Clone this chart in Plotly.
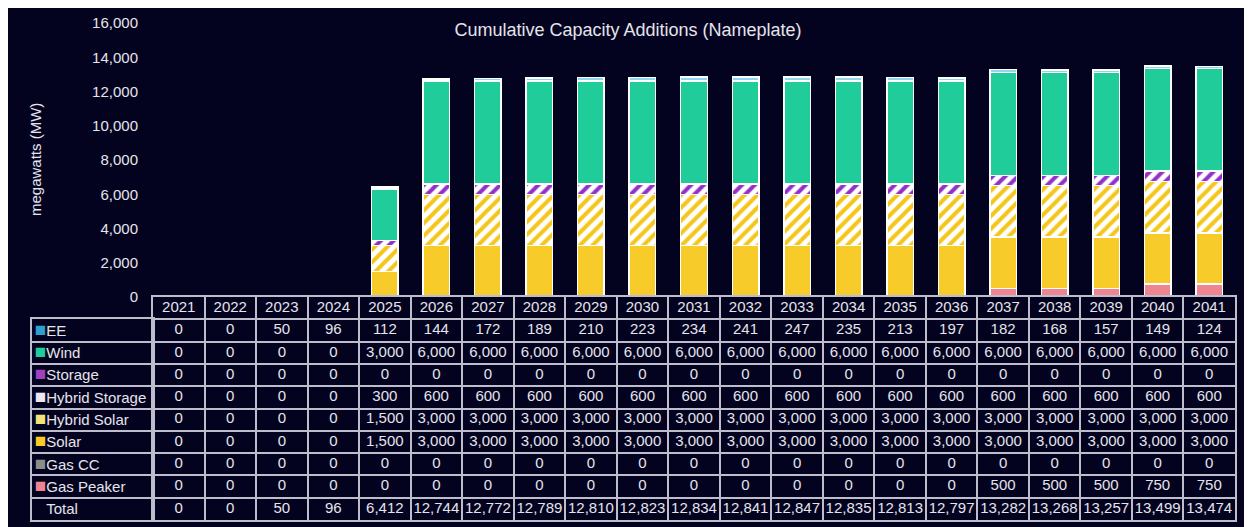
import plotly.graph_objects as go

# ---------------- data ----------------
years = ["2021", "2022", "2023", "2024", "2025", "2026", "2027", "2028", "2029", "2030",
         "2031", "2032", "2033", "2034", "2035", "2036", "2037", "2038", "2039", "2040", "2041"]

ee = [0, 0, 50, 96, 112, 144, 172, 189, 210, 223, 234, 241, 247, 235, 213, 197, 182, 168, 157, 149, 124]
wind = [0, 0, 0, 0, 3000, 6000, 6000, 6000, 6000, 6000, 6000, 6000, 6000, 6000, 6000, 6000,
        6000, 6000, 6000, 6000, 6000]
storage = [0, 0, 0, 0, 0, 0, 0, 0, 0, 0, 0, 0, 0, 0, 0, 0, 0, 0, 0, 0, 0]
hybrid_storage = [0, 0, 0, 0, 300, 600, 600, 600, 600, 600, 600, 600, 600, 600, 600, 600,
                  600, 600, 600, 600, 600]
hybrid_solar = [0, 0, 0, 0, 1500, 3000, 3000, 3000, 3000, 3000, 3000, 3000, 3000, 3000, 3000, 3000,
                3000, 3000, 3000, 3000, 3000]
solar = [0, 0, 0, 0, 1500, 3000, 3000, 3000, 3000, 3000, 3000, 3000, 3000, 3000, 3000, 3000,
         3000, 3000, 3000, 3000, 3000]
gas_cc = [0, 0, 0, 0, 0, 0, 0, 0, 0, 0, 0, 0, 0, 0, 0, 0, 0, 0, 0, 0, 0]
gas_peaker = [0, 0, 0, 0, 0, 0, 0, 0, 0, 0, 0, 0, 0, 0, 0, 0, 500, 500, 500, 750, 750]

series_names = ["EE", "Wind", "Storage", "Hybrid Storage", "Hybrid Solar", "Solar", "Gas CC", "Gas Peaker"]
total_name = "Total"
header_key = "Year"
title_text = "Cumulative Capacity Additions (Nameplate)"
y_title = "megawatts (MW)"
y_ticks = [0, 2000, 4000, 6000, 8000, 10000, 12000, 14000, 16000]

# ---------------- geometry (page px -> paper fraction) ----------------
OFF = 8                       # browser body margin
W, H = 1252 - OFF, 527 - OFF  # figure fits the window exactly


def fx(p):
    return (p - OFF) / W


def fy(p):
    return 1 - (p - OFF) / H


BG = "#04031f"
TXT = "#e4e4ec"
GRID = "#bdbdcc"
FONT = "Arial, 'Liberation Sans', sans-serif"

C_EE = "#8fd6ee"
C_EE_KEY = "#2f9fd0"
C_WIND = "#1fcc9a"
C_STOR = "#a040c0"
C_HSTOR = "#9230c8"
C_HSOL = "#f5c61a"
C_SOL = "#f7cb2a"
C_GCC = "#8c8c8c"
C_GP = "#ef8590"

# bottom -> top stacking order
stack = [
    (series_names[7], gas_peaker, C_GP, None),
    (series_names[6], gas_cc, C_GCC, None),
    (series_names[5], solar, C_SOL, None),
    (series_names[4], hybrid_solar, "white", C_HSOL),
    (series_names[3], hybrid_storage, "white", C_HSTOR),
    (series_names[2], storage, C_STOR, None),
    (series_names[1], wind, C_WIND, None),
    (series_names[0], ee, C_EE, None),
]

fig = go.Figure()
for name, vals, color, stripe in stack:
    marker = dict(color=color, line=dict(color="white", width=1.5))
    if stripe:
        marker["pattern"] = dict(shape="/", fgcolor=stripe, bgcolor="white", fgopacity=1,
                                 size=9, solidity=0.45, fillmode="overlay")
    fig.add_trace(go.Bar(x=years, y=vals, name=name, marker=marker,
                         hoverinfo="x+y+name", xaxis="x", yaxis="y"))

# ---------------- data table (built on its own category axes) ----------------
table_rows = [
    (series_names[0], ee, C_EE_KEY),
    (series_names[1], wind, C_WIND),
    (series_names[2], storage, C_STOR),
    (series_names[3], hybrid_storage, "#ece6f2"),
    (series_names[4], hybrid_solar, "#f2e27a"),
    (series_names[5], solar, C_SOL),
    (series_names[6], gas_cc, C_GCC),
    (series_names[7], gas_peaker, C_GP),
]
totals = [sum(v[i] for _, v, _ in table_rows) for i in range(len(years))]
row_keys = [n for n, _, _ in table_rows] + [total_name]
all_rows = [header_key] + row_keys

# header row (years)
fig.add_trace(go.Scatter(x=years, y=[header_key] * len(years), text=years, mode="text",
                         textposition="middle center", xaxis="x2", yaxis="y2",
                         textfont=dict(family=FONT, size=15, color=TXT),
                         hoverinfo="skip", cliponaxis=False))
# body rows
for name, vals, _ in table_rows:
    fig.add_trace(go.Scatter(x=years, y=[name] * len(years),
                             text=["{:,}".format(v) for v in vals], mode="text",
                             textposition="middle center", xaxis="x2", yaxis="y2",
                             textfont=dict(family=FONT, size=15, color=TXT),
                             hoverinfo="skip", cliponaxis=False))
fig.add_trace(go.Scatter(x=years, y=[total_name] * len(years),
                         text=["{:,}".format(v) for v in totals], mode="text",
                         textposition="middle center", xaxis="x2", yaxis="y2",
                         textfont=dict(family=FONT, size=15, color=TXT),
                         hoverinfo="skip", cliponaxis=False))

# label column: registers the row categories, labels shown as tick labels
KEY = "<span style='color:%s;font-size:19px'>■</span>%s"
label_text = [KEY % (c, n) for n, _, c in table_rows]
label_text.append(KEY % (BG, total_name))
fig.add_trace(go.Scatter(x=[None] * len(row_keys), y=row_keys, mode="markers",
                         xaxis="x3", yaxis="y3", hoverinfo="skip", showlegend=False))

grid_axis = dict(showgrid=True, gridcolor=GRID, gridwidth=1.5, showline=True, mirror=True,
                 linecolor=GRID, linewidth=1.5, zeroline=False, ticks="",
                 tickson="boundaries", showticklabels=False, type="category",
                 automargin=False, fixedrange=True)

fig.update_layout(
    width=W, height=H, autosize=False,
    margin=dict(l=0, r=0, t=0, b=0),
    paper_bgcolor=BG, plot_bgcolor=BG,
    barmode="stack", bargap=0.485, showlegend=False,
    font=dict(family=FONT, color=TXT),
    title=dict(text=title_text, x=fx(628), xanchor="center", xref="paper",
               y=fy(30), yanchor="middle", font=dict(size=18, color=TXT)),
    xaxis=dict(domain=[fx(153), fx(1235)], showticklabels=False, showgrid=False,
               zeroline=False, showline=False, ticks="", automargin=False, anchor="y"),
    yaxis=dict(domain=[fy(297), fy(23)], range=[0, 16000], anchor="x",
               tickvals=y_ticks, tickformat=",", showgrid=False, zeroline=False,
               showline=False, ticks="", ticklabelstandoff=14, automargin=False,
               tickfont=dict(size=15, color=TXT)),
    xaxis2=dict(grid_axis, domain=[fx(153), fx(1235)], anchor="y2",
                categoryorder="array", categoryarray=years,
                range=[-0.5, len(years) - 0.5]),
    yaxis2=dict(grid_axis, domain=[fy(520), fy(297)], anchor="x2",
                categoryorder="array", categoryarray=all_rows,
                range=[len(all_rows) - 0.5, -0.5]),
    xaxis3=dict(domain=[fx(32), fx(153)], anchor="y3", range=[0, 1],
                showgrid=False, showline=True, mirror=True, linecolor=GRID, linewidth=1.5,
                zeroline=False, ticks="", showticklabels=False, automargin=False,
                fixedrange=True),
    yaxis3=dict(grid_axis, domain=[fy(520), fy(297 + 22.3)], anchor="x3",
                categoryorder="array", categoryarray=row_keys,
                range=[len(row_keys) - 0.5, -0.5],
                showticklabels=True, tickvals=row_keys, ticktext=label_text,
                ticklabelposition="inside", ticklabeloverflow="allow", ticklabelstandoff=3,
                tickfont=dict(family=FONT, size=15, color=TXT)),
    annotations=[dict(text=y_title, textangle=-90, x=fx(35), y=fy(160),
                      xref="paper", yref="paper", showarrow=False,
                      xanchor="center", yanchor="middle",
                      font=dict(size=15, color=TXT))],
)

fig.write_html("out.html")
